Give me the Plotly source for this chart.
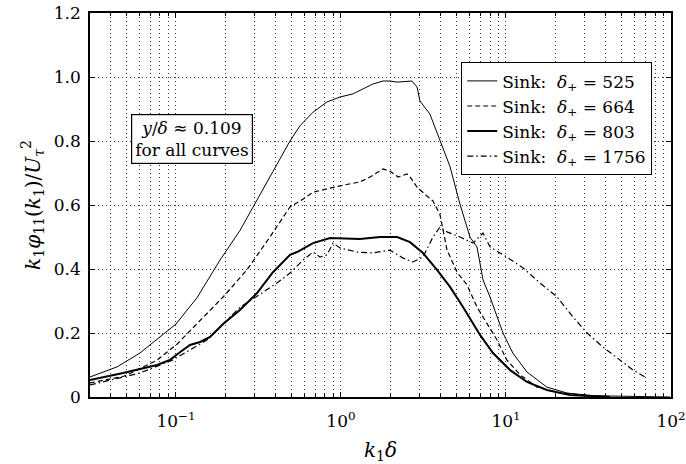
import plotly.graph_objects as go

# ---- data (k1*delta, k1*phi11/U_tau^2) ----
x525 = [0.0301, 0.0439, 0.0605, 0.0767, 0.1, 0.134, 0.185, 0.244, 0.310, 0.371,
        0.427, 0.491, 0.565, 0.677, 0.823, 0.986, 1.18, 1.36, 1.56, 1.80, 1.98, 2.19,
        2.51, 2.69, 2.89, 3.01, 3.46, 3.98, 4.58, 5.26, 6.05, 6.67, 7.26, 8.0, 9.59,
        11.0, 13.4, 17.7, 23.4, 33.7, 64.8, 98.6]
y525 = [0.0625, 0.094, 0.1375, 0.180, 0.228, 0.310, 0.428, 0.520, 0.616, 0.690,
        0.744, 0.800, 0.848, 0.890, 0.922, 0.9375, 0.947, 0.9625, 0.978, 0.9875, 0.9875, 0.984,
        0.9875, 0.9875, 0.969, 0.925, 0.884, 0.800, 0.720, 0.603, 0.500, 0.469, 0.366, 0.3125, 0.200,
        0.1375, 0.078, 0.031, 0.0125, 0.004, 0.0005, 0.0]

x664 = [0.0301, 0.0478, 0.055, 0.0767, 0.1014, 0.140, 0.193, 0.269, 0.371, 0.491, 0.565, 0.677,
        0.986, 1.30, 1.50, 1.80, 1.98, 2.22, 2.51, 2.62, 2.89, 3.32, 3.61, 3.98, 4.39,
        5.05, 5.81, 6.67, 7.67, 8.83, 10.1, 12.2, 15.4, 21.2, 37.2]
y664 = [0.044, 0.064, 0.078, 0.115, 0.165, 0.240, 0.3125, 0.397, 0.500, 0.594, 0.6125, 0.640,
        0.660, 0.672, 0.6875, 0.7125, 0.706, 0.6875, 0.697, 0.6875, 0.656, 0.628, 0.6125, 0.570, 0.460,
        0.390, 0.350, 0.281, 0.231, 0.178, 0.116, 0.069, 0.031, 0.0125, 0.002]

x803 = [0.0301, 0.0478, 0.0767, 0.092, 0.1057, 0.1216, 0.140, 0.161, 0.193, 0.244, 0.310, 0.387,
        0.491, 0.542, 0.677, 0.859, 1.30, 1.73, 2.19, 2.62, 3.14, 3.82, 4.58, 5.49, 6.96,
        8.34, 10.6, 13.4, 17.7, 24.4, 42.7]
y803 = [0.053, 0.075, 0.100, 0.116, 0.140, 0.1625, 0.172, 0.1875, 0.228, 0.272, 0.325, 0.390,
        0.444, 0.453, 0.481, 0.497, 0.494, 0.500, 0.500, 0.484, 0.450, 0.397, 0.344, 0.281, 0.194,
        0.1375, 0.084, 0.047, 0.022, 0.006, 0.0]

x1756 = [0.0301, 0.0605, 0.0959, 0.1216, 0.154, 0.244, 0.409, 0.491, 0.589, 0.677, 0.746, 0.823,
         0.895, 0.986, 1.25, 1.56, 1.98, 2.38, 2.73, 3.14, 3.61, 3.98, 4.39, 5.26, 6.31,
         7.26, 8.0, 10.1, 12.7, 16.1, 20.4, 25.5, 31.0, 38.7, 49.1, 58.9, 71.6]
y1756 = [0.0375, 0.075, 0.116, 0.147, 0.178, 0.280, 0.356, 0.3875, 0.428, 0.453, 0.4375, 0.444,
         0.481, 0.466, 0.453, 0.450, 0.459, 0.434, 0.422, 0.4375, 0.500, 0.531, 0.516, 0.500, 0.481,
         0.5125, 0.469, 0.4375, 0.403, 0.356, 0.3125, 0.250, 0.200, 0.156, 0.116, 0.084, 0.059]

names = ["Sink:  <i>δ</i><sub>+</sub> = 525", "Sink:  <i>δ</i><sub>+</sub> = 664",
         "Sink:  <i>δ</i><sub>+</sub> = 803", "Sink:  <i>δ</i><sub>+</sub> = 1756"]

xtickvals = [0.1, 1, 10, 100]
xticktext = ["10<sup>−1</sup>", "10<sup>0</sup>", "10<sup>1</sup>", "10<sup>2</sup>"]
ytickvals = [0, 0.2, 0.4, 0.6, 0.8, 1.0, 1.2]
yticktext = ["0", "0.2", "0.4", "0.6", "0.8", "1.0", "1.2"]

FONT = "DejaVu Serif"
GRID = "1px,3px"

fig = go.Figure()
fig.add_trace(go.Scatter(x=x525, y=y525, mode="lines", name=names[0],
                         line=dict(color="black", width=1.0)))
fig.add_trace(go.Scatter(x=x664, y=y664, mode="lines", name=names[1],
                         line=dict(color="black", width=1.2, dash="5px,3px")))
fig.add_trace(go.Scatter(x=x803, y=y803, mode="lines", name=names[2],
                         line=dict(color="black", width=2.0)))
fig.add_trace(go.Scatter(x=x1756, y=y1756, mode="lines", name=names[3],
                         line=dict(color="black", width=1.2, dash="6px,3px,1.5px,3px")))

fig.add_annotation(x=0.1756, y=0.673, xref="paper", yref="paper",
                   xanchor="center", yanchor="middle",
                   text="<i>y</i>/<i>δ</i> ≈ 0.109<br>for all curves",
                   showarrow=False, bordercolor="black", borderwidth=1.2,
                   borderpad=3, bgcolor="white",
                   font=dict(family=FONT, size=17, color="black"))

fig.update_layout(
    width=686, height=464,
    margin=dict(l=90, r=15, t=13, b=67, autoexpand=False),
    paper_bgcolor="white", plot_bgcolor="white",
    font=dict(family=FONT, size=17, color="black"),
    showlegend=True,
    legend=dict(x=0.6386, y=0.872, xanchor="left", yanchor="top",
                bordercolor="black", borderwidth=1.2, bgcolor="white",
                font=dict(family=FONT, size=17, color="black"),
                tracegroupgap=0, itemwidth=30),
    xaxis=dict(type="log", range=[-1.521, 2.0], automargin=False,
               tickvals=xtickvals, ticktext=xticktext,
               ticks="inside", ticklen=5, tickcolor="black",
               ticklabelstandoff=8,
               showline=True, linecolor="black", linewidth=1.5, mirror="ticks",
               showgrid=True, gridcolor="#333", griddash=GRID, gridwidth=1,
               minor=dict(ticks="inside", ticklen=3, tickcolor="black", showgrid=True,
                          gridcolor="#333", griddash=GRID, gridwidth=1,
                          dtick="D1"),
               zeroline=False,
               title=dict(text="<i>k</i><sub>1</sub><i>δ</i>", standoff=18,
                          font=dict(family=FONT, size=20))),
    yaxis=dict(range=[0, 1.2], automargin=False,
               tickvals=ytickvals, ticktext=yticktext,
               ticks="inside", ticklen=5, tickcolor="black",
               ticklabelstandoff=4,
               showline=True, linecolor="black", linewidth=1.5, mirror="ticks",
               showgrid=True, gridcolor="#333", griddash=GRID, gridwidth=1,
               zeroline=False,
               title=dict(text="<i>k</i><sub>1</sub><i>φ</i><sub>11</sub>(<i>k</i><sub>1</sub>)/<i>U</i><sub><i>τ</i></sub><sup>2</sup>",
                          standoff=8, font=dict(family=FONT, size=20))),
)

fig.write_html("out.html")
